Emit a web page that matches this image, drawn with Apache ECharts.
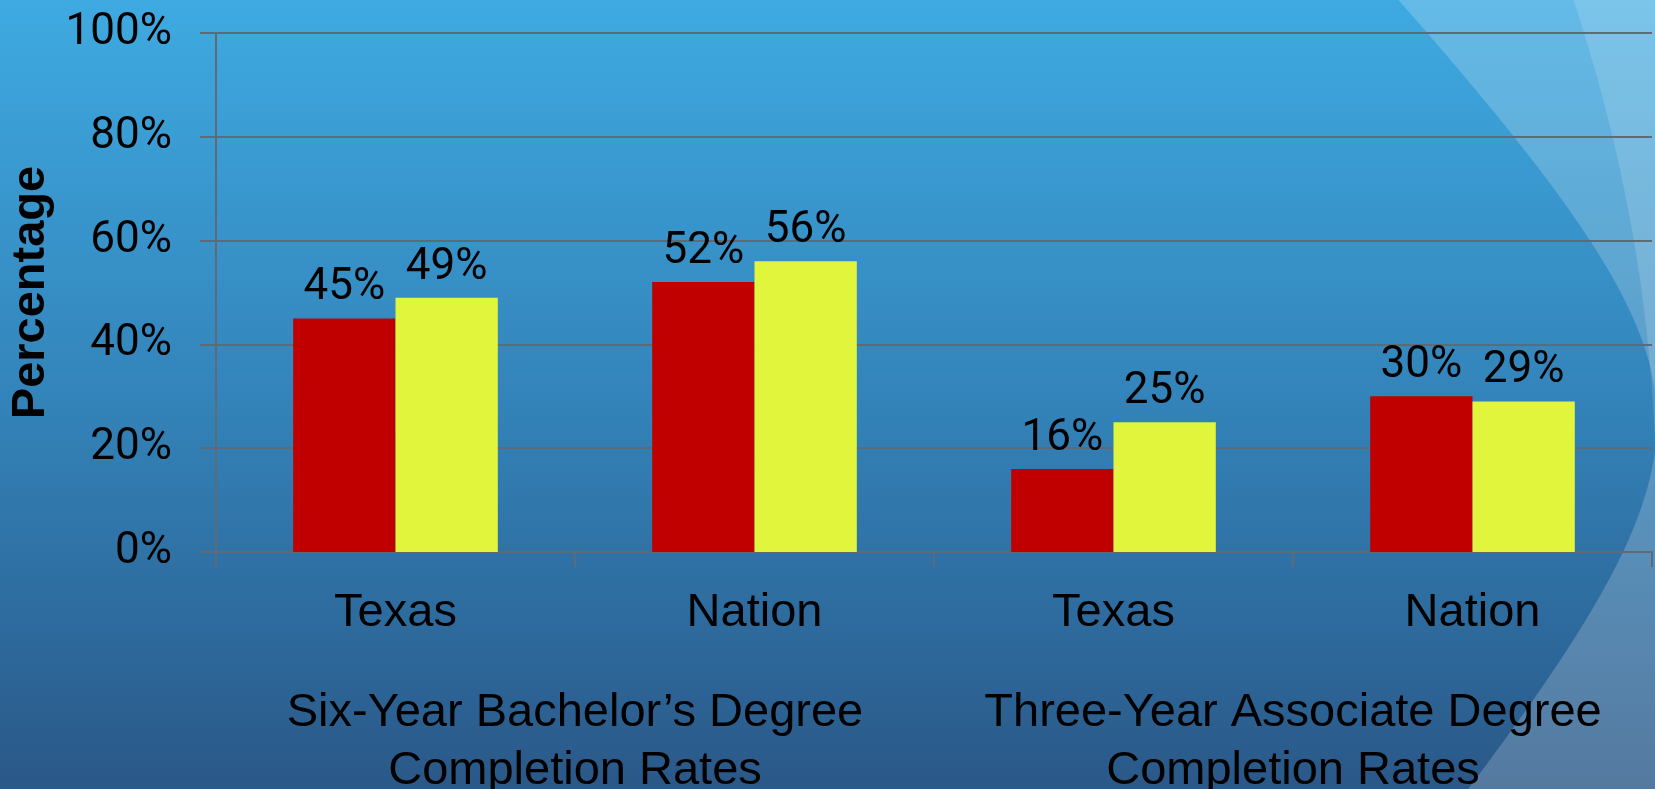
<!DOCTYPE html>
<html>
<head>
<meta charset="utf-8">
<script src="https://cdn.jsdelivr.net/npm/echarts@6/dist/echarts.min.js"></script>
<style>
  html, body { margin: 0; padding: 0; }
  #main { width: 1655px; height: 789px; }
</style>
</head>
<body>
<div id="main"></div>
<script>
// completion rates
const categories = ['Texas', 'Nation', 'Texas', 'Nation'];
const groups = ['Six-Year Bachelor\u2019s Degree\nCompletion Rates', 'Three-Year Associate Degree\nCompletion Rates'];
const redValues = [45, 52, 16, 30];
const yellowValues = [49, 56, 25, 29];

const FONT = 'Liberation Sans';
const NUM_FONT = 'Roboto';
const FS = 47;
const gridColor = '#5e6b76';

// light swooshes of the slide background (decoration only)
function swooshA() {
  const pts = [];
  for (let y = 0; y <= 789; y += 3) {
    const dy = y - 420;
    const a = dy < 0 ? 195 : 172;
    pts.push([1657 - a * (Math.sqrt(1 + (dy / 200) * (dy / 200)) - 1), y]);
  }
  pts.push([1700, 789], [1700, 0]);
  return pts;
}
function swooshB() {
  const pts = [];
  for (let y = 0; y <= 560; y += 3) {
    pts.push([1656 - 0.00033 * (y - 500) * (y - 500), y]);
  }
  pts.push([1700, 560], [1700, 0]);
  return pts;
}

const chart = echarts.init(document.getElementById('main'));

const textStyle = { color: '#000', fontSize: FS, fontFamily: FONT };
const numStyle = { color: '#000', fontSize: 44, fontFamily: NUM_FONT };

const option = {
  backgroundColor: {
    type: 'linear', x: 0, y: 0, x2: 0, y2: 1,
    colorStops: [
      { offset: 0, color: '#3eaae1' },
      { offset: 0.5, color: '#3384ba' },
      { offset: 1, color: '#2a5888' }
    ]
  },
  textStyle: { fontFamily: FONT },
  graphic: [
    {
      type: 'polygon', z: -10, silent: true,
      shape: { points: swooshA() },
      style: { fill: 'rgba(255,255,255,0.2)' }
    },
    {
      type: 'polygon', z: -9, silent: true,
      shape: { points: swooshB() },
      style: { fill: 'rgba(255,255,255,0.15)' }
    }
  ],
  grid: { left: 216, right: 3, top: 33, bottom: 237, outerBoundsMode: 'none', containLabel: false },
  xAxis: [
    {
      type: 'category',
      data: categories,
      axisLine: { lineStyle: { color: gridColor, width: 2 } },
      axisTick: { show: true, length: 15, lineStyle: { color: gridColor, width: 2 } },
      axisLabel: Object.assign({ margin: 38, interval: 0 }, textStyle)
    },
    {
      type: 'category',
      position: 'bottom',
      data: groups,
      axisLine: { show: false },
      axisTick: { show: false },
      axisLabel: Object.assign({ margin: 132, lineHeight: 58, interval: 0 }, textStyle)
    }
  ],
  yAxis: {
    type: 'value',
    min: 0,
    max: 100,
    interval: 20,
    name: 'Percentage',
    nameLocation: 'middle',
    nameRotate: 90,
    nameGap: 141,
    nameTextStyle: { color: '#000', fontSize: FS, fontWeight: 'bold', fontFamily: FONT },
    axisLine: { show: true, lineStyle: { color: gridColor, width: 2 } },
    axisTick: { show: true, length: 16, lineStyle: { color: gridColor, width: 2 } },
    axisLabel: Object.assign({ margin: 44, formatter: '{value}%' }, numStyle),
    splitLine: { lineStyle: { color: gridColor, width: 2 } }
  },
  series: [
    {
      name: 'Red',
      type: 'bar',
      data: redValues,
      barGap: '0%',
      barCategoryGap: '43%',
      itemStyle: { color: '#c00000' },
      label: Object.assign({ show: true, position: 'top', distance: 8, formatter: '{c}%' }, numStyle)
    },
    {
      name: 'Yellow',
      type: 'bar',
      data: yellowValues,
      itemStyle: { color: '#e0f53b' },
      label: Object.assign({ show: true, position: 'top', distance: 8, formatter: '{c}%' }, numStyle)
    }
  ]
};

chart.setOption(option);
</script>
</body>
</html>
